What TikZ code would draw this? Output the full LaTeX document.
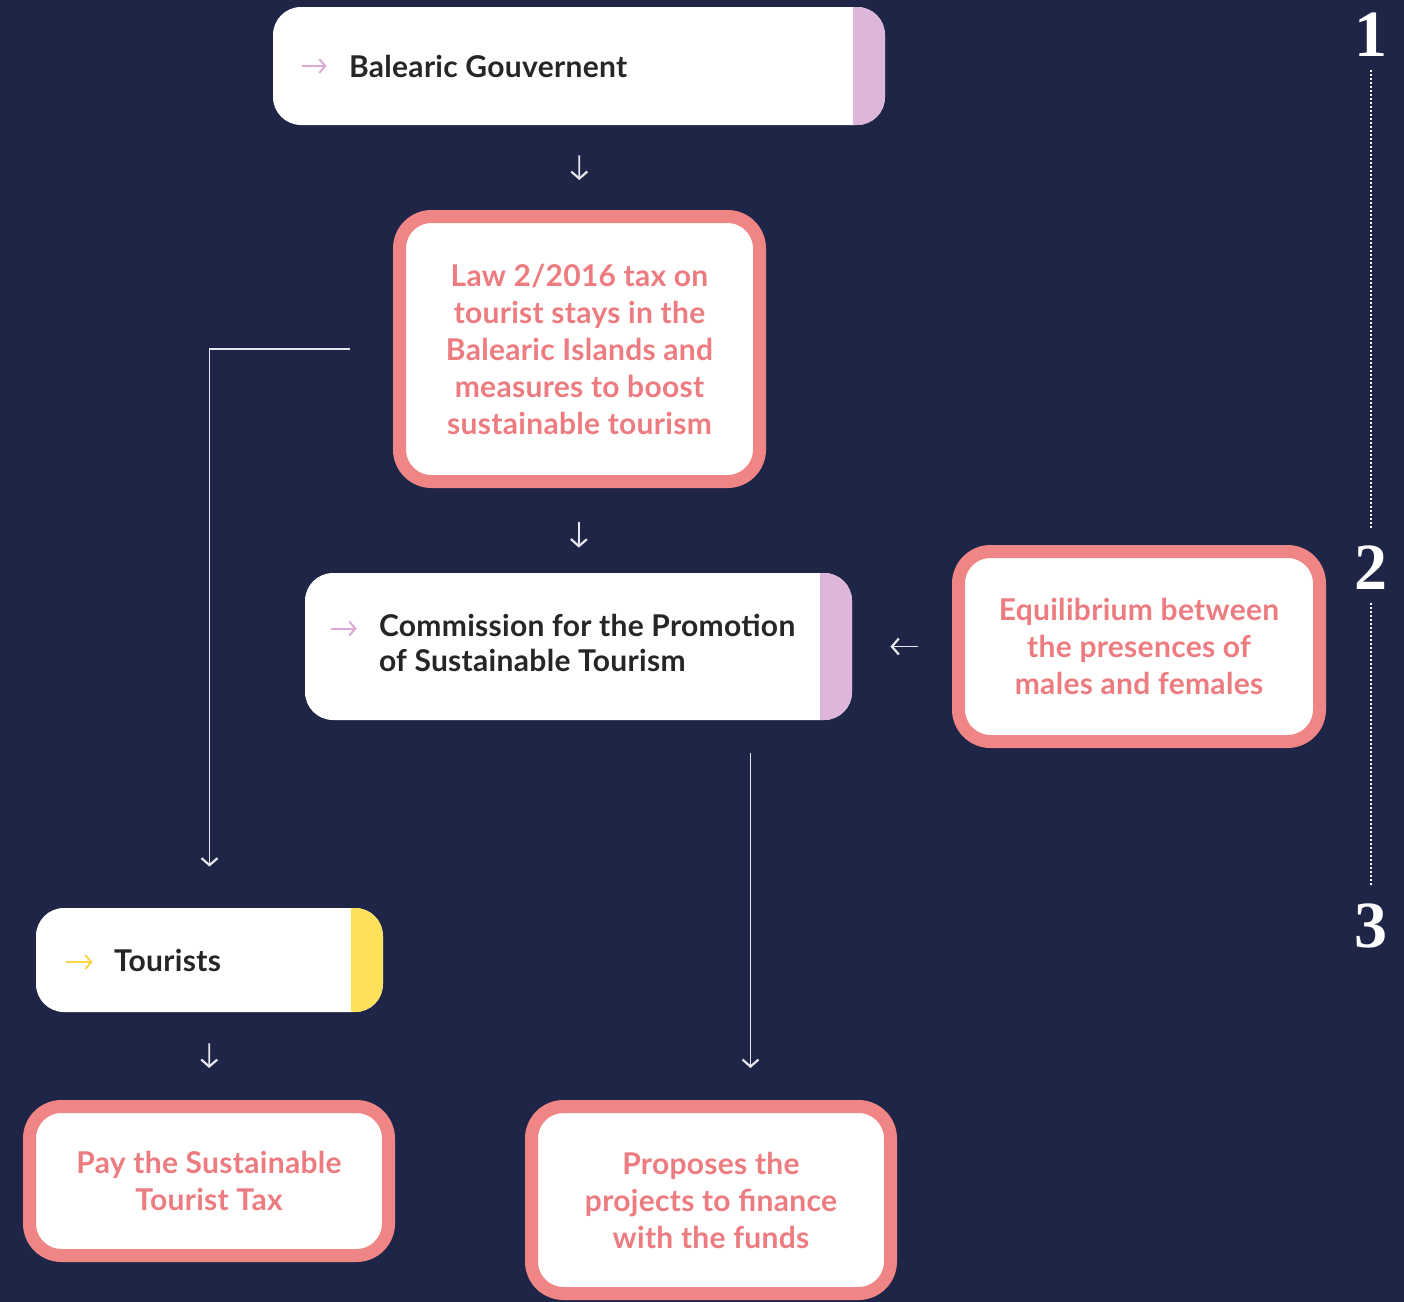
\documentclass[tikz,border=0pt]{standalone}
\usepackage{fontspec}
\setmainfont{Lato}[LetterSpace=1]
\newfontfamily\numfont{Liberation Serif}
\usepackage{xcolor}
\usetikzlibrary{arrows.meta}

\definecolor{navy}{HTML}{1F2547}
\definecolor{coral}{HTML}{EF8585}
\definecolor{coraltext}{HTML}{EC7C80}
\definecolor{lilac}{HTML}{DDB6D9}
\definecolor{lilacicon}{HTML}{DCA9D5}
\definecolor{sun}{HTML}{FDE15B}
\definecolor{sunicon}{HTML}{F9D64A}
\definecolor{linegrey}{HTML}{E6E6EC}

\begin{document}
\begin{tikzpicture}[x=0.5pt, y=-0.5pt,
        flow/.style={draw=linegrey, line width=0.9pt, -{Straight Barb[length=3.5pt,width=8pt,line width=1.1pt]}},
        tagbox/.style={fill=white, rounded corners=14pt, inner sep=0pt,
            path picture={\fill[#1, sharp corners] ([xshift=-16pt]path picture bounding box.north east) rectangle (path picture bounding box.south east);}},
        tagtext/.style={anchor=west, align=left, inner sep=0pt, text=black!85,
            font=\fontsize{15}{17.5}\selectfont\bfseries},
        tagicon/.style={draw=#1, line width=1pt, -{Straight Barb[length=3pt,width=7pt]}},
        pinkbox/.style={draw=coral, line width=6.5pt, fill=white, rounded corners=16pt,
            align=center, text=coraltext, font=\fontsize{15}{18.5}\selectfont\bfseries},
        stepnum/.style={text=white, inner sep=0pt, font=\numfont\bfseries\fontsize{33}{33}\selectfont}]
        \fill[navy] (0,0) rectangle (1404,1302);
        \useasboundingbox (0,0) rectangle (1404,1302);

        % white tags
        \node[tagbox=lilac, minimum width=306pt, minimum height=59pt] (gov) at (579,66) {};
        \node[tagtext] (govtxt) at ([xshift=38pt]gov.west) {Balearic Gouvernent};
        \draw[tagicon=lilacicon] ([xshift=14.5pt]gov.west) -- ++(12.5pt,0);

        \node[tagbox=lilac, minimum width=273.5pt, minimum height=73.5pt] (comm) at (578.5,646.5) {};
        \node[tagtext] (commtxt) at ([xshift=37pt,yshift=2pt]comm.west) {Commission for the Promotion\\of Sustainable Tourism};
        \draw[tagicon=lilacicon] ([xshift=13pt,yshift=9pt]comm.west) -- ++(13pt,0);

        \node[tagbox=sun, minimum width=173.5pt, minimum height=52pt] (tour) at (209.5,960) {};
        \node[tagtext] (tourtxt) at ([xshift=39pt]tour.west) {Tourists};
        \draw[tagicon=sunicon] ([xshift=15pt,yshift=-1pt]tour.west) -- ++(13.5pt,0);

        % pink boxes
        \node[pinkbox, minimum width=180pt, minimum height=132.5pt] (law) at (579.5,349)
            {Law 2/2016 tax on\\tourist stays in the\\Balearic Islands and\\measures to boost\\sustainable tourism};
        \node[pinkbox, minimum width=180.5pt, minimum height=95pt] (equi) at (1139,646.5)
            {Equilibrium between\\the presences of\\males and females};
        \node[pinkbox, minimum width=179.5pt, minimum height=74.5pt] (pay) at (209,1181)
            {Pay the Sustainable\\Tourist Tax};
        \node[pinkbox, minimum width=179.5pt, minimum height=93.5pt] (prop) at (711,1200)
            {Proposes the\\projects to finance\\with the funds};

        % arrows
        \draw[flow, shorten <=15pt, shorten >=15pt] (gov.south) -- (law.north);
        \draw[flow, shorten <=17pt, shorten >=12.5pt] (law.south) -- (comm.north);
        \draw[flow, shorten <=17pt, shorten >=19pt] (equi.west) -- (comm.east);
        \draw[flow, shorten <=15.5pt, shorten >=16pt] (tour.south) -- (pay.north);
        \draw[flow, shorten >=20.5pt] ([xshift=-21.5pt]law.west) -| (tour.north);
        \draw[flow, shorten <=16.5pt, shorten >=16pt] ([xshift=86pt]comm.south) -- ([xshift=86pt]comm.south |- prop.north);

        % steps on the right
        \node[stepnum] (n1) at (1371,35) {1};
        \node[stepnum] (n2) at (1371,568) {2};
        \node[stepnum] (n3) at (1371,926) {3};
        \draw[white, line width=1pt, dash pattern=on 1pt off 1pt, shorten <=6.5pt, shorten >=8.5pt] (n1) -- (n2);
        \draw[white, line width=1pt, dash pattern=on 1pt off 1pt, shorten <=6.5pt, shorten >=9pt] (n2) -- (n3);
    \end{tikzpicture}
\end{document}
